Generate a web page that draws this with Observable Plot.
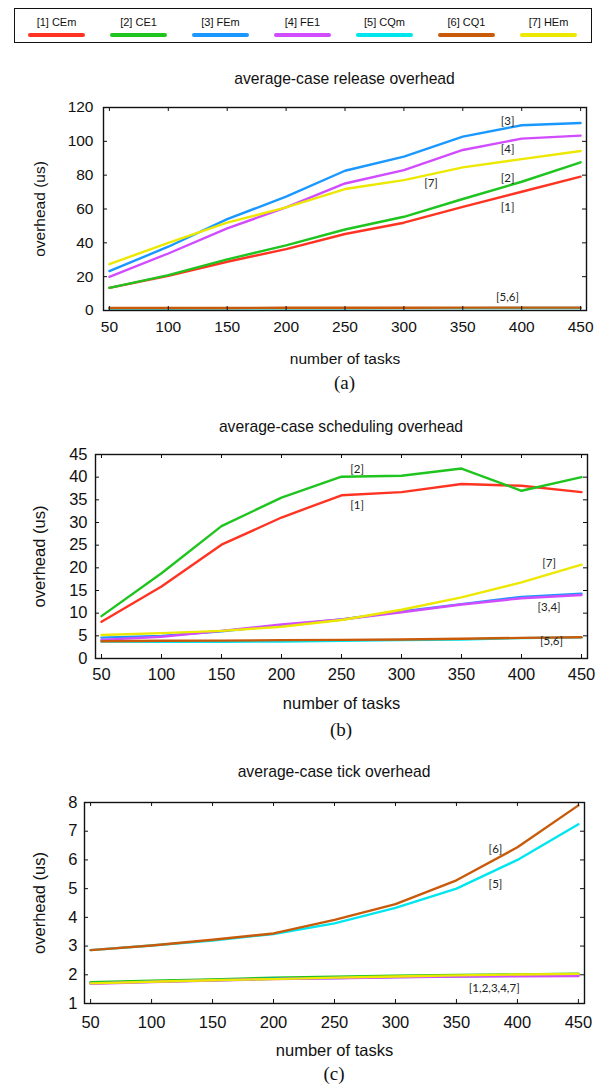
<!DOCTYPE html>
<html>
<head>
<meta charset="utf-8">
<script src="https://cdn.jsdelivr.net/npm/d3@7"></script>
<script src="https://cdn.jsdelivr.net/npm/@observablehq/plot@0.6"></script>
<style>
  html, body { margin: 0; padding: 0; background: #fff; }
  body { width: 605px; height: 1089px; position: relative; overflow: hidden; font-family: "Liberation Sans", Arial, sans-serif; }
  .abs { position: absolute; }
  .title { font-size: 15.7px; color: #111; text-align: center; line-height: 20px; white-space: nowrap; }
  .caption { font-family: "Liberation Serif", "Times New Roman", serif; font-size: 19px; text-align: center; line-height: 22px; color: #111; }
  #legend { border: 1.5px solid #111; box-sizing: border-box; }
  .litem { position: absolute; text-align: center; font-size: 11px; color: #111; line-height: 13px; }
  .lbar { height: 4px; border-radius: 2px; margin-top: 4px; }
</style>
</head>
<body>
<div id="legend" class="abs"></div>
<script>
// ---------- data ----------
const tasks = [50, 100, 150, 200, 250, 300, 350, 400, 450];
const seriesNames = ["[1] CEm", "[2] CE1", "[3] FEm", "[4] FE1", "[5] CQm", "[6] CQ1", "[7] HEm"];
const seriesColors = ["#ff3322", "#1fc41f", "#1a98ff", "#d24cff", "#00e6ef", "#c85a0a", "#ece800"];

// (a) average-case release overhead
const releaseCEm = [13.4, 20.5, 28.8, 36.3, 45.2, 51.9, 61.3, 70.2, 79.1];
const releaseCE1 = [13.4, 20.9, 30.2, 38.5, 47.9, 55.4, 65.9, 76.1, 87.6];
const releaseFEm = [23.3, 37.7, 54.0, 67.3, 82.6, 91.0, 102.8, 109.5, 110.8];
const releaseFE1 = [19.9, 33.7, 48.5, 61.0, 75.1, 83.0, 94.9, 101.6, 103.4];
const releaseCQm = [1.2, 1.2, 1.3, 1.3, 1.3, 1.4, 1.4, 1.5, 1.5];
const releaseCQ1 = [1.5, 1.5, 1.5, 1.6, 1.6, 1.6, 1.7, 1.7, 1.7];
const releaseHEm = [27.4, 40.0, 51.9, 61.0, 71.8, 77.1, 84.6, 89.5, 94.3];

// (b) average-case scheduling overhead
const schedCEm = [8.1, 15.9, 25.1, 31.1, 36.0, 36.7, 38.5, 38.1, 36.7];
const schedCE1 = [9.35, 18.8, 29.2, 35.5, 40.1, 40.3, 41.9, 37.0, 40.0];
const schedFEm = [4.6, 5.0, 6.0, 7.3, 8.6, 10.4, 12.0, 13.6, 14.3];
const schedFE1 = [4.1, 4.8, 6.1, 7.5, 8.6, 10.2, 11.9, 13.3, 14.0];
const schedCQm = [3.75, 3.7, 3.7, 3.75, 3.9, 4.05, 4.2, 4.5, 4.65];
const schedCQ1 = [3.8, 3.9, 3.95, 4.05, 4.1, 4.2, 4.35, 4.55, 4.7];
const schedHEm = [5.2, 5.6, 6.1, 7.0, 8.5, 10.75, 13.5, 16.8, 20.7];

// (c) average-case tick overhead
const tickCEm = [1.72, 1.77, 1.82, 1.87, 1.90, 1.93, 1.96, 1.98, 2.00];
const tickCE1 = [1.74, 1.79, 1.84, 1.90, 1.93, 1.97, 1.99, 2.01, 2.04];
const tickFEm = [1.70, 1.76, 1.81, 1.86, 1.89, 1.92, 1.95, 1.97, 1.98];
const tickFE1 = [1.69, 1.75, 1.80, 1.85, 1.88, 1.91, 1.94, 1.95, 1.96];
const tickCQm = [2.86, 3.02, 3.19, 3.42, 3.79, 4.33, 5.00, 6.00, 7.24];
const tickCQ1 = [2.86, 3.02, 3.22, 3.44, 3.91, 4.46, 5.29, 6.44, 7.90];
const tickHEm = [1.70, 1.76, 1.81, 1.85, 1.90, 1.94, 1.98, 2.01, 2.03];

// y tick labels
const releaseTicks = [0, 20, 40, 60, 80, 100, 120];
const schedTicks = [0, 5, 10, 15, 20, 25, 30, 35, 40, 45];
const tickTicks = [1, 2, 3, 4, 5, 6, 7, 8];

// in-plot annotations: text, x (tasks), y (value)
const releaseNotes = [["[3]", 388, 112], ["[4]", 388, 95], ["[2]", 388, 78], ["[7]", 323, 75], ["[1]", 388, 61], ["[5,6]", 388, 7.7]];
const schedNotes = [["[2]", 263, 41.7], ["[1]", 263, 33.9], ["[7]", 423, 21], ["[3,4]", 423, 11.4], ["[5,6]", 425, 3.9]];
const tickNotes = [["[6]", 382, 6.36], ["[5]", 382, 5.15], ["[1,2,3,4,7]", 381, 1.54]];

// ---------- build ----------
function table(arrays) {
  return arrays.flatMap((vals, i) => vals.map((v, j) => ({series: seriesNames[i], tasks: tasks[j], value: v})));
}

// legend
const legend = document.getElementById("legend");
Object.assign(legend.style, {left: "14px", top: "8px", width: "578px", height: "35px"});
seriesNames.forEach((name, i) => {
  const it = document.createElement("div");
  it.className = "litem";
  Object.assign(it.style, {left: (13 + i * 82) + "px", top: "7px", width: "57px"});
  it.innerHTML = `<div>${name}</div><div class="lbar" style="background:${seriesColors[i]}"></div>`;
  legend.appendChild(it);
});

function panel(cfg) {
  const W = 605;
  const frameW = cfg.frameRight - cfg.frameLeft;
  const frameH = cfg.frameBottom - cfg.frameTop;
  const mt = 8, mb = 62;
  const data = table(cfg.series);
  const notes = cfg.notes.map(([t, x, y]) => ({t, x, y}));
  const chart = Plot.plot({
    width: W,
    height: mt + frameH + mb,
    marginLeft: cfg.frameLeft,
    marginRight: W - cfg.frameRight,
    marginTop: mt,
    marginBottom: mb,
    style: {fontFamily: "Liberation Sans, Arial, sans-serif", fontSize: cfg.fontSize + "px", color: "#111", background: "transparent"},
    x: {domain: [45, 455]},
    y: {domain: cfg.yDomain},
    color: {domain: seriesNames, range: seriesColors},
    marks: [
      Plot.line(data, {x: "tasks", y: "value", z: "series", stroke: "series", strokeWidth: 2.4}),
      Plot.text(notes, {x: "x", y: "y", text: "t", fontFamily: "Lato, sans-serif", fontSize: 11.5, fill: "#222"}),
      Plot.tickX(tasks, {x: d => d, insetTop: frameH - 4, stroke: "#111"}),
      Plot.tickX(tasks, {x: d => d, insetBottom: frameH - 4, stroke: "#111"}),
      Plot.tickY(cfg.yTicks, {y: d => d, insetRight: frameW - 4, stroke: "#111"}),
      Plot.tickY(cfg.yTicks, {y: d => d, insetLeft: frameW - 4, stroke: "#111"}),
      Plot.axisX(tasks, {anchor: "bottom", tickSize: 0, tickPadding: cfg.xPad, label: "number of tasks", labelAnchor: "center", labelArrow: "none", labelOffset: cfg.xLabelOffset}),
      Plot.axisY(cfg.yTicks, {anchor: "left", tickSize: 0, tickPadding: cfg.yPad, label: "overhead (us)", labelAnchor: "center", labelArrow: "none", labelOffset: cfg.frameLeft - 33}),
      Plot.frame({stroke: "#111", strokeWidth: 1.4})
    ]
  });
  chart.classList.add("abs");
  chart.style.left = "0px";
  chart.style.top = (cfg.frameTop - mt) + "px";
  document.body.appendChild(chart);

  const t = document.createElement("div");
  t.className = "abs title";
  t.textContent = cfg.title;
  Object.assign(t.style, {left: cfg.frameLeft + "px", width: frameW + "px", top: (cfg.titleY - 10) + "px"});
  document.body.appendChild(t);

  const c = document.createElement("div");
  c.className = "abs caption";
  c.textContent = cfg.caption;
  Object.assign(c.style, {left: cfg.frameLeft + "px", width: frameW + "px", top: (cfg.captionY - 11) + "px"});
  document.body.appendChild(c);
}

panel({
  title: "average-case release overhead", caption: "(a)",
  series: [releaseCEm, releaseCE1, releaseFEm, releaseFE1, releaseCQm, releaseCQ1, releaseHEm],
  notes: releaseNotes, yDomain: [0, 120], yTicks: releaseTicks,
  frameLeft: 103, frameRight: 586, frameTop: 107, frameBottom: 310,
  fontSize: 15.5, xPad: 10, yPad: 10, xLabelOffset: 53, titleY: 79, captionY: 383
});
panel({
  title: "average-case scheduling overhead", caption: "(b)",
  series: [schedCEm, schedCE1, schedFEm, schedFE1, schedCQm, schedCQ1, schedHEm],
  notes: schedNotes, yDomain: [0, 45], yTicks: schedTicks,
  frameLeft: 95, frameRight: 587, frameTop: 454, frameBottom: 658,
  fontSize: 16.5, xPad: 10, yPad: 8, xLabelOffset: 50, titleY: 427, captionY: 730
});
panel({
  title: "average-case tick overhead", caption: "(c)",
  series: [tickCEm, tickCE1, tickFEm, tickFE1, tickCQm, tickCQ1, tickHEm],
  notes: tickNotes, yDomain: [1, 8], yTicks: tickTicks,
  frameLeft: 84, frameRight: 584, frameTop: 802, frameBottom: 1003,
  fontSize: 16.5, xPad: 13, yPad: 7, xLabelOffset: 52, titleY: 772, captionY: 1074
});
</script>
</body>
</html>
